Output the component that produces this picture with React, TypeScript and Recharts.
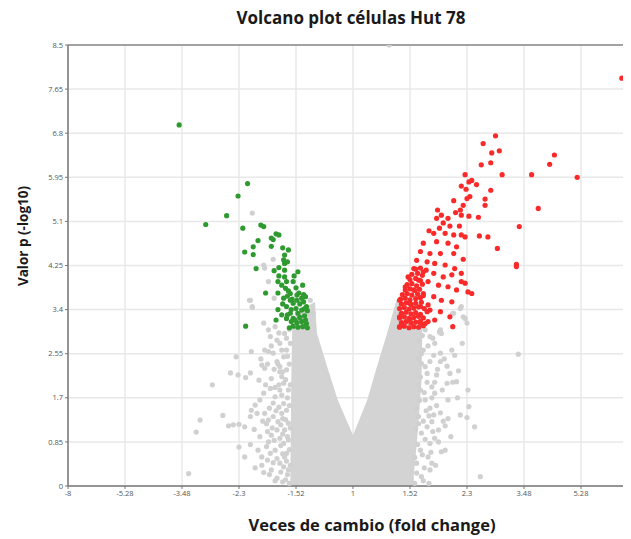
import { ComposedChart, Area, Scatter, XAxis, YAxis, CartesianGrid, ReferenceLine } from 'recharts';

// x = log2(fold change), y = -log10(p); the "8" tick sits just past the cropped right edge
const X_TICKS = [-3, -2.4, -1.8, -1.2, -0.6, 0, 0.6, 1.2, 1.8, 2.4];
const X_TICK_LABELS = ['-8', '-5.28', '-3.48', '-2.3', '-1.52', '1', '1.52', '2.3', '3.48', '5.28'];
const Y_TICKS = [0, 0.85, 1.7, 2.55, 3.4, 4.25, 5.1, 5.95, 6.8, 7.65, 8.5];
const Y_TICK_LABELS = ['0', '0.85', '1.7', '2.55', '3.4', '4.25', '5.1', '5.95', '6.8', '7.65', '8.5'];

// outline of the dense grey cloud (thousands of overlapping genes)
const CLOUD: [number, number][] = [
  [-0.66, 0], [-0.655, 1.0], [-0.65, 2.0], [-0.64, 3.0], [-0.6, 3.3], [-0.45, 3.5], [-0.4, 3.55],
  [-0.38, 2.95], [-0.27, 2.29], [-0.16, 1.66], [0, 0.98], [0.15, 1.66], [0.25, 2.29], [0.36, 2.95],
  [0.46, 3.6], [0.55, 3.3], [0.73, 3.05], [0.72, 2.0], [0.68, 1.0], [0.64, 0.2], [0.64, 0],
];

const GREY: [number, number][] = [
  [-1.08, 3.58], [-1.06, 3.46], [-0.94, 3.14], [-0.89, 3.01], [-0.87, 2.88], [-1.07, 2.59], [-1.23, 2.49],
  [-0.93, 2.62], [-0.89, 2.59], [-0.84, 2.56], [-0.8, 2.4], [-0.96, 2.33], [-0.93, 2.27], [-1.29, 2.18],
  [-1.21, 2.14], [-1.13, 2.09], [-1.08, 2.18], [-0.99, 2.04], [-0.86, 2.07], [-0.77, 2.2], [-1.48, 1.95],
  [-0.94, 1.79], [-0.87, 1.88], [-0.82, 1.72], [-0.98, 1.66], [-1.03, 1.56], [-1.07, 1.46], [-1.37, 1.36],
  [-1.08, 1.34], [-1.61, 1.27], [-0.93, 1.4], [-0.89, 1.27], [-0.84, 1.34], [-0.79, 1.24], [-1.31, 1.16],
  [-1.26, 1.18], [-1.2, 1.19], [-1.14, 1.14], [-1.04, 1.09], [-1.65, 1.04], [-0.9, 1.05], [-0.86, 0.98],
  [-0.8, 1.08], [-0.77, 0.92], [-1.2, 0.75], [-1.08, 0.8], [-1.0, 0.69], [-1.14, 0.56], [-0.96, 0.56],
  [-0.91, 0.76], [-0.87, 0.63], [-0.82, 0.69], [-0.8, 0.53], [-0.77, 0.44], [-1.73, 0.24], [-0.94, 0.26],
  [-0.86, 0.31], [-0.8, 0.15], [-0.73, 0.37], [-0.72, 0.56], [-0.73, 0.82], [-0.72, 1.08], [-0.75, 1.4],
  [-0.73, 1.59], [-0.77, 1.85], [-0.73, 1.98], [-0.75, 2.11], [-0.77, 2.3], [-0.73, 2.49], [-0.77, 2.75],
  [-0.72, 2.94], [-0.8, 2.81], [-0.82, 3.07], [-0.7, 2.62], [-0.7, 2.24], [-0.68, 1.85], [-0.7, 1.46],
  [-0.68, 1.21], [-0.68, 0.89], [-0.7, 0.63], [-0.68, 0.31], [-0.71, 0.12],
  [-0.67, 0.05], [-0.69, 0.22], [-0.66, 0.4], [-0.7, 0.48], [-0.67, 0.7], [-0.69, 0.95], [-0.66, 1.12],
  [-0.71, 1.28], [-0.67, 1.55], [-0.69, 1.7], [-0.66, 1.95], [-0.71, 2.05], [-0.67, 2.35], [-0.69, 2.5],
  [-0.66, 2.75], [-0.7, 2.85], [-0.67, 3.02], [-0.74, 0.08], [-0.76, 0.27], [-0.74, 0.62], [-0.76, 0.78],
  [-0.74, 1.0], [-0.76, 1.18], [-0.74, 1.3], [-0.78, 1.52], [-0.75, 1.75], [-0.78, 1.95], [-0.74, 2.2],
  [-0.79, 2.35], [-0.75, 2.62], [-0.78, 2.95], [-0.82, 0.1], [-0.84, 0.45], [-0.83, 0.88], [-0.85, 1.12],
  [-0.81, 1.45], [-0.84, 1.6], [-0.83, 2.25], [-0.86, 2.7], [-0.82, 1.9], [-0.88, 0.22], [-0.9, 0.5],
  [-0.89, 0.85], [-0.91, 1.2], [-0.88, 1.5], [-0.92, 1.95], [-0.9, 2.35], [-0.96, 0.4], [-0.98, 0.95],
  [-0.95, 1.25], [-0.97, 2.45], [-1.01, 1.4], [-1.03, 0.35],
  [-1.06, 5.26], [-0.93, 4.2], [-0.84, 4.37], [-0.94, 4.26], [-0.89, 3.94], [-0.83, 3.62], [-1.09, 3.58],
  [-1.06, 3.44], [-0.45, 3.58], [-0.42, 3.33],
  [1.14, 3.46], [1.18, 3.23], [1.2, 3.14], [1.06, 3.33], [0.91, 2.97], [0.93, 2.94], [0.81, 2.88],
  [0.86, 2.75], [1.15, 2.75], [1.04, 2.62], [1.07, 2.52], [1.74, 2.54], [0.92, 2.56], [0.85, 2.52],
  [0.92, 2.4], [0.99, 2.31], [1.11, 2.22], [1.02, 2.17], [0.88, 2.14], [0.99, 1.98], [1.09, 2.01],
  [1.21, 1.85], [0.83, 1.91], [0.86, 1.79], [1.0, 1.66], [1.22, 1.53], [0.81, 1.5], [0.92, 1.41],
  [1.13, 1.37], [1.0, 1.3], [1.2, 1.32], [1.28, 1.14], [0.83, 1.24], [0.97, 1.16], [0.9, 1.08],
  [0.86, 0.92], [0.81, 0.82], [0.93, 0.66], [0.97, 0.69], [0.79, 0.56], [0.83, 0.44], [0.81, 0.31],
  [1.34, 0.18], [0.72, 0.18], [0.78, 1.14], [0.76, 1.66], [0.78, 2.17], [0.74, 2.62], [0.76, 3.01],
  [0.72, 1.02], [0.71, 1.85], [0.72, 2.36], [0.71, 0.69], [0.67, 0.44], [0.69, 1.34], [0.85, 1.37],
  [0.65, 0.05], [0.67, 0.25], [0.65, 0.55], [0.68, 0.8], [0.66, 1.1], [0.69, 1.2], [0.67, 1.5],
  [0.7, 1.65], [0.68, 1.95], [0.71, 2.1], [0.69, 2.45], [0.72, 2.55], [0.7, 2.8], [0.73, 2.9],
  [0.74, 0.1], [0.75, 0.35], [0.73, 0.6], [0.76, 0.9], [0.74, 1.25], [0.77, 1.45], [0.75, 1.8],
  [0.78, 2.0], [0.76, 2.3], [0.79, 2.7], [0.8, 0.05], [0.82, 0.65], [0.84, 1.05], [0.8, 1.35],
  [0.83, 1.7], [0.81, 2.4], [0.84, 2.85], [0.87, 0.4], [0.88, 1.55], [0.89, 2.25], [0.86, 2.0],
  [0.9, 0.85], [0.94, 1.85], [0.95, 1.25], [0.96, 2.45], [1.03, 0.95], [1.05, 2.0], [1.1, 1.7],
  [1.13, 3.42], [1.16, 3.26], [0.92, 3.01], [1.05, 3.33], [0.38, 8.5],
];

const GREEN: [number, number][] = [
  [-1.83, 6.96], [-1.11, 5.83], [-1.21, 5.59], [-1.33, 5.21], [-1.55, 5.04], [-1.16, 4.97], [-0.97, 5.03],
  [-0.94, 5.0], [-1.0, 4.73], [-1.05, 4.61], [-0.86, 4.78], [-0.84, 4.75], [-0.81, 4.86], [-0.78, 4.84],
  [-0.86, 4.62], [-1.14, 4.51], [-1.05, 4.46], [-0.74, 4.59], [-0.68, 4.55], [-0.72, 4.45], [-1.02, 4.19],
  [-0.83, 4.15], [-0.78, 4.21], [-0.72, 4.29], [-0.69, 4.32], [-0.78, 4.05], [-0.72, 4.16], [-0.72, 4.03],
  [-0.62, 4.05], [-0.58, 4.13], [-0.92, 3.72], [-0.79, 3.72], [-0.71, 3.81], [-0.68, 3.76], [-0.6, 3.82],
  [-0.53, 3.87], [-0.52, 3.69], [-0.79, 3.4], [-0.74, 3.51], [-0.7, 3.46], [-0.66, 3.58], [-0.63, 3.52],
  [-0.59, 3.58], [-0.56, 3.51], [-0.52, 3.55], [-0.49, 3.46], [-0.81, 3.2], [-1.13, 3.08], [-0.66, 3.33],
  [-0.63, 3.23], [-0.58, 3.33], [-0.54, 3.39], [-0.51, 3.28], [-0.59, 3.15], [-0.54, 3.17], [-0.49, 3.13],
  [-0.65, 3.17], [-0.7, 3.23], [-0.75, 3.3], [-0.73, 3.62], [-0.7, 3.94], [-0.63, 3.94], [-0.66, 3.71],
  [-0.59, 3.68], [-0.54, 3.62], [-0.51, 3.42], [-0.79, 3.94], [-0.75, 3.87], [-0.73, 4.36],
  [-0.48, 3.05], [-0.53, 3.07], [-0.58, 3.06], [-0.63, 3.08], [-0.67, 3.05], [-0.5, 3.2], [-0.56, 3.25],
  [-0.61, 3.2], [-0.69, 3.3], [-0.48, 3.38], [-0.6, 3.42], [-0.65, 3.4], [-0.5, 3.65], [-0.57, 3.72],
  [-0.64, 3.6], [-0.69, 3.66],
];

const RED: [number, number][] = [
  [2.83, 7.86], [1.5, 6.75], [1.37, 6.6], [1.46, 6.42], [1.54, 6.46], [1.35, 6.19], [1.45, 6.23],
  [1.18, 6.0], [1.57, 6.0], [1.88, 6.0], [2.12, 6.38], [2.07, 6.2], [2.36, 5.95], [1.95, 5.35],
  [1.75, 5.0], [1.45, 5.7], [1.39, 5.53], [1.39, 5.41], [1.32, 5.18], [1.33, 4.82], [1.42, 4.8],
  [1.52, 4.58], [1.72, 4.27], [1.72, 4.23],
  [1.22, 5.86], [1.25, 5.89], [1.3, 5.81], [1.14, 5.78], [1.19, 5.72], [1.23, 5.58], [1.2, 5.54],
  [1.16, 5.41], [1.06, 5.5], [1.13, 5.32], [1.08, 5.27], [0.89, 5.32], [0.93, 5.22], [1.0, 5.16],
  [1.14, 5.22], [1.22, 5.2], [0.88, 5.16], [0.95, 5.07], [1.02, 5.01], [1.12, 5.01], [0.91, 4.97],
  [0.8, 4.92], [0.85, 4.87], [0.97, 4.87], [1.06, 4.84], [1.14, 4.84], [1.18, 4.8], [0.74, 4.68],
  [0.88, 4.71], [1.0, 4.68], [1.09, 4.61], [0.71, 4.52], [0.81, 4.48], [0.92, 4.48], [1.06, 4.48],
  [1.16, 4.37], [0.67, 4.35], [0.78, 4.32], [0.86, 4.29], [0.97, 4.26], [1.07, 4.19], [1.14, 4.1],
  [0.64, 4.19], [0.74, 4.13], [0.85, 4.1], [0.95, 4.03], [1.04, 4.07], [1.14, 3.94], [1.18, 3.91],
  [0.58, 4.03], [0.69, 3.97], [0.79, 3.94], [0.9, 3.87], [1.0, 3.84], [1.09, 3.78], [1.21, 3.74],
  [1.25, 3.71], [0.55, 3.84], [0.64, 3.78], [0.74, 3.71], [0.85, 3.65], [0.93, 3.58], [1.04, 3.55],
  [0.49, 3.58], [0.6, 3.52], [0.71, 3.46], [0.81, 3.39], [0.92, 3.36], [1.02, 3.26], [1.05, 3.07],
  [0.49, 3.26], [0.6, 3.2], [0.71, 3.14], [0.79, 3.17], [0.86, 3.2], [0.49, 3.07],
  [0.49, 3.06], [0.54, 3.08], [0.59, 3.05], [0.64, 3.07], [0.69, 3.06], [0.74, 3.09],
  [0.51, 3.15], [0.56, 3.17], [0.61, 3.14], [0.66, 3.16], [0.71, 3.18], [0.76, 3.13],
  [0.49, 3.24], [0.54, 3.26], [0.59, 3.23], [0.64, 3.25], [0.69, 3.27], [0.74, 3.24],
  [0.51, 3.33], [0.56, 3.35], [0.61, 3.32], [0.66, 3.34], [0.71, 3.31], [0.78, 3.36],
  [0.49, 3.42], [0.54, 3.44], [0.59, 3.41], [0.64, 3.43], [0.69, 3.45], [0.75, 3.42],
  [0.51, 3.51], [0.56, 3.53], [0.61, 3.5], [0.66, 3.52], [0.72, 3.54], [0.79, 3.49],
  [0.5, 3.6], [0.55, 3.62], [0.6, 3.59], [0.66, 3.61], [0.71, 3.63],
  [0.52, 3.69], [0.57, 3.71], [0.62, 3.68], [0.68, 3.7], [0.74, 3.67],
  [0.55, 3.78], [0.6, 3.8], [0.65, 3.77], [0.7, 3.79],
  [0.57, 3.88], [0.62, 3.9], [0.67, 3.86], [0.73, 3.89],
  [0.6, 3.98], [0.66, 4.0], [0.71, 3.96],
  [0.62, 4.08], [0.68, 4.1], [0.73, 4.06],
  [0.66, 4.18], [0.71, 4.2], [0.77, 4.16],
];

const toRows = (pts: [number, number][]) => pts.map(([x, y]) => ({ x, y }));

const dot = (color: string) => (props: any) => (
  <circle cx={props.cx} cy={props.cy} r={2.6} fill={color} />
);

const tickStyle = { fontSize: 7.5, fill: '#555', fontFamily: 'Open Sans, sans-serif' };

export default function App() {
  return (
    <div style={{ position: 'relative', width: 623, height: 531, fontFamily: 'Open Sans, sans-serif' }}>
      {/* chart is wider than the window; clip it like the cropped original */}
      <div style={{ position: 'absolute', left: 0, top: 0, width: 623, height: 531, overflow: 'hidden' }}>
        <ComposedChart width={640} height={531} data={toRows(CLOUD)} margin={{ top: 37, right: 10, bottom: 13, left: 0 }}>
          <CartesianGrid stroke="#e8e8e8" strokeWidth={1.5} />
          <XAxis
            type="number"
            dataKey="x"
            domain={[-3, 3]}
            ticks={X_TICKS}
            interval={0}
            tickFormatter={(v: number) => X_TICK_LABELS[X_TICKS.indexOf(v)] ?? ''}
            tick={tickStyle}
            tickSize={3}
            tickLine={{ stroke: '#777' }}
            axisLine={{ stroke: '#777', strokeWidth: 1.5 }}
            height={40}
            allowDataOverflow
          />
          <YAxis
            type="number"
            dataKey="y"
            domain={[0, 8.5]}
            ticks={Y_TICKS}
            interval={0}
            tickFormatter={(v: number) => Y_TICK_LABELS[Y_TICKS.indexOf(v)] ?? ''}
            tick={tickStyle}
            tickSize={3}
            tickLine={{ stroke: '#777' }}
            axisLine={{ stroke: '#777', strokeWidth: 1.5 }}
            width={60}
            allowDataOverflow
          />
          <ReferenceLine y={8.5} stroke="#888" strokeWidth={1.5} />
          <Area type="linear" dataKey="y" stroke="none" fill="#d3d3d3" fillOpacity={1} baseValue={0} dot={false} activeDot={false} isAnimationActive={false} />
          <Scatter data={toRows(GREY)} shape={dot('#d0d0d0')} isAnimationActive={false} />
          <Scatter data={toRows(GREEN)} shape={dot('#2f9a2f')} isAnimationActive={false} />
          <Scatter data={toRows(RED)} shape={dot('#fa2a2a')} isAnimationActive={false} />
        </ComposedChart>
      </div>
      <div style={{ position: 'absolute', left: 343, top: -2, transform: 'translateX(-50%)', fontSize: 17, lineHeight: '24px', fontWeight: 700, color: '#1a1a1a', whiteSpace: 'nowrap' }}>
        Volcano plot células Hut 78
      </div>
      <div style={{ position: 'absolute', left: 15, top: 228, transform: 'translate(-50%, -50%) rotate(-90deg)', fontSize: 13.5, fontWeight: 700, color: '#1a1a1a', whiteSpace: 'nowrap' }}>
        Valor p (-log10)
      </div>
      <div style={{ position: 'absolute', left: 364, top: 516, transform: 'translate(-50%, -50%)', fontSize: 16.5, fontWeight: 700, color: '#1a1a1a', whiteSpace: 'nowrap' }}>
        Veces de cambio (fold change)
      </div>
    </div>
  );
}
